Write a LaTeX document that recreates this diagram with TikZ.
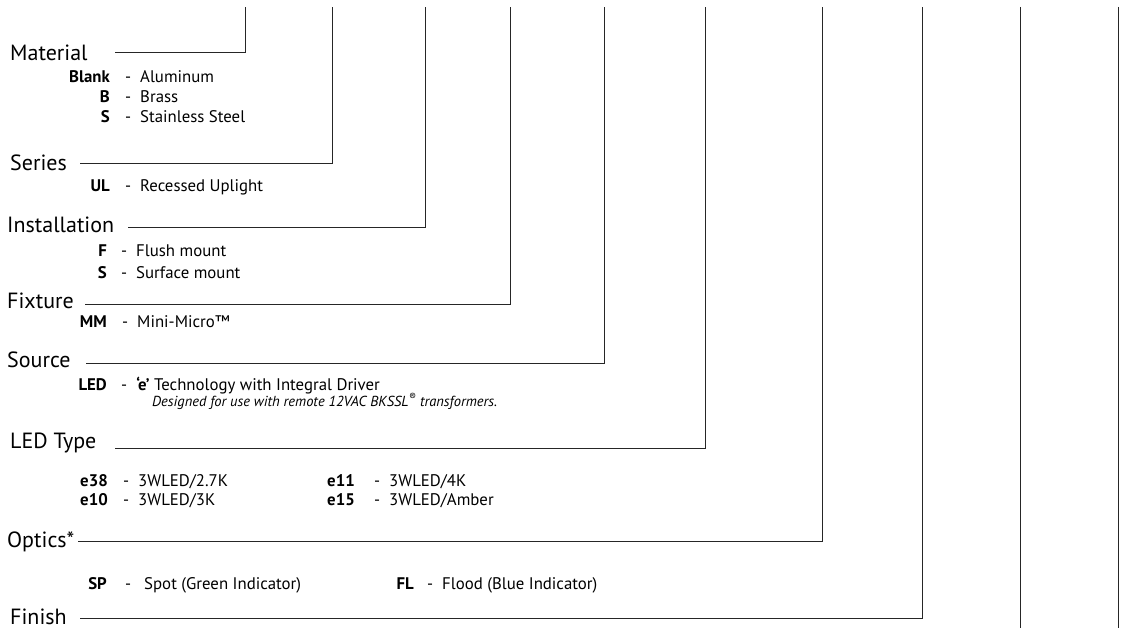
\documentclass[tikz,border=0pt]{standalone}
\usepackage{fontspec}
\setmainfont{PT Sans}
\usepackage{tikz}
\newcommand{\headfont}{\fontsize{22}{26}\selectfont}
\newcommand{\bodyfont}{\fontsize{16.8}{19}\selectfont}
\newcommand{\notefont}{\fontsize{14.5}{17}\selectfont}
\tikzset{head/.style={anchor=base west,inner sep=0pt,font=\headfont}}
\tikzset{code/.style={anchor=base east,inner sep=0pt,font=\bodyfont\bfseries}}
\tikzset{desc/.style={anchor=base west,inner sep=0pt,font=\bodyfont}}
\tikzset{note/.style={anchor=base west,inner sep=0pt,font=\notefont\itshape}}
\tikzset{lead/.style={draw=black!85,line width=0.9pt}}

\begin{document}
\begin{tikzpicture}[x=1pt,y=-1pt]
\useasboundingbox (0,0) rectangle (1145,628);
% headings
\node[head] (mat) at (10,61) {Material};
\node[head] (ser) at (10,171) {Series};
\node[head] (ins) at (7,233) {Installation};
\node[head] (fix) at (7,308) {Fixture};
\node[head] (src) at (7,367) {Source};
\node[head] (typ) at (10,448) {LED Type};
\node[head] (opt) at (7,547) {Optics*};
\node[head] (fin) at (10,624) {Finish};
% material
\node[code] (blank) at (110,83) {Blank};
\node[desc] (blank-d) at (125,83) {-\hspace{9pt}Aluminum};
\node[code] (brass) at (110,103) {B};
\node[desc] (brass-d) at (125,103) {-\hspace{9pt}Brass};
\node[code] (steel) at (110,123) {S};
\node[desc] (steel-d) at (125,123) {-\hspace{9pt}Stainless Steel};
% series
\node[code] (ul) at (110,192) {UL};
\node[desc] (ul-d) at (125,192) {-\hspace{9pt}Recessed Uplight};
% installation
\node[code] (flush) at (107,257) {F};
\node[desc] (flush-d) at (121,257) {-\hspace{9pt}Flush mount};
\node[code] (surf) at (107,278) {S};
\node[desc] (surf-d) at (121,278) {-\hspace{9pt}Surface mount};
% fixture
\node[code] (mm) at (107,327) {MM};
\node[desc] (mm-d) at (122,327) {-\hspace{9pt}Mini-Micro™};
% source
\node[code] (led) at (107,390) {LED};
\node[desc] (led-d) at (121,390) {-\hspace{9pt}\textbf{‘e’} Technology with Integral Driver};
\node[note] (led-n) at (152,406) {Designed for use with remote 12VAC BKSSL\textsuperscript{®} transformers.};
% led type
\node[code] (e38) at (108,486) {e38};
\node[desc] (e38-d) at (123,486) {-\hspace{9pt}3WLED/2.7K};
\node[code] (e10) at (108,505) {e10};
\node[desc] (e10-d) at (123,505) {-\hspace{9pt}3WLED/3K};
\node[code] (e11) at (355,486) {e11};
\node[desc] (e11-d) at (374,486) {-\hspace{9pt}3WLED/4K};
\node[code] (e15) at (355,505) {e15};
\node[desc] (e15-d) at (374,505) {-\hspace{9pt}3WLED/Amber};
% optics
\node[code] (sp) at (107,589) {SP};
\node[desc] (sp-d) at (125,589) {-\hspace{13pt}Spot (Green Indicator)};
\node[code] (fl) at (414,589) {FL};
\node[desc] (fl-d) at (427,589) {-\hspace{9pt}Flood (Blue Indicator)};
% leader lines
\coordinate (mat-s) at (115,52);
\coordinate (mat-t) at (245,7);
\coordinate (ser-s) at (80,163);
\coordinate (ser-t) at (332.5,7);
\coordinate (ins-s) at (128,227);
\coordinate (ins-t) at (425,7);
\coordinate (fix-s) at (85,304);
\coordinate (fix-t) at (510,7);
\coordinate (src-s) at (86,363);
\coordinate (src-t) at (604,7);
\coordinate (typ-s) at (115,448);
\coordinate (typ-t) at (705,7);
\coordinate (opt-s) at (78,541);
\coordinate (opt-t) at (822.5,7);
\coordinate (fin-s) at (80,618);
\coordinate (fin-t) at (922,7);
\draw[lead] (mat-s) -| (mat-t);
\draw[lead] (ser-s) -| (ser-t);
\draw[lead] (ins-s) -| (ins-t);
\draw[lead] (fix-s) -| (fix-t);
\draw[lead] (src-s) -| (src-t);
\draw[lead] (typ-s) -| (typ-t);
\draw[lead] (opt-s) -| (opt-t);
\draw[lead] (fin-s) -| (fin-t);
% open columns
\coordinate (c9-t) at (1020,7);
\coordinate (c9-b) at (1020,628);
\coordinate (c10-t) at (1118.5,7);
\coordinate (c10-b) at (1118.5,628);
\draw[lead] (c9-t) -- (c9-b);
\draw[lead] (c10-t) -- (c10-b);
\end{tikzpicture}
\end{document}
